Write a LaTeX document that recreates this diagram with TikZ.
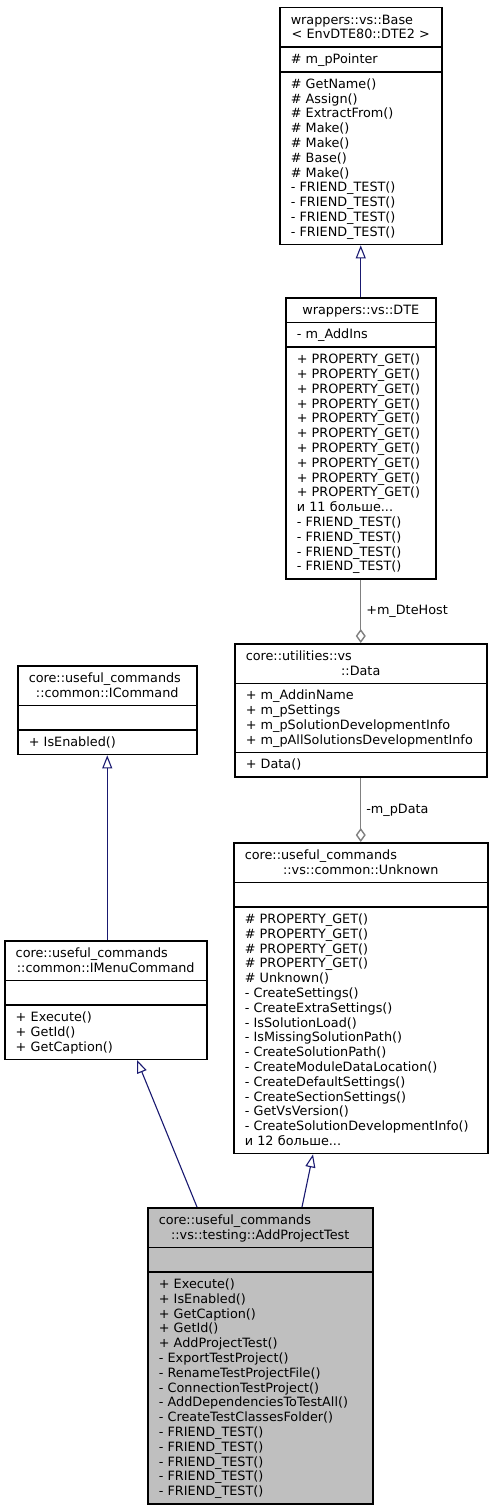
\documentclass[tikz,border=0pt]{standalone}
\usepackage{fontspec}
\usepackage{xcolor}
\usepackage{tikz}
\usetikzlibrary{shapes.multipart,arrows.meta,calc}
\newfontfamily\umlfamily{DejaVu Sans}
\newcommand{\umlfont}{\umlfamily\fontsize{12.8pt}{14.8pt}\selectfont\lineskiplimit=-20pt\relax}
\newcommand{\umls}{\rule[-3.3pt]{0pt}{14.8pt}}
\newcommand{\umlmid}[1]{\makebox[\linewidth]{#1}}
\definecolor{edgeblue}{HTML}{191970}
\definecolor{edgegray}{HTML}{808080}
\definecolor{testgray}{HTML}{BFBFBF}
\tikzset{
  umlclass/.style={draw=black, line width=1.5pt, fill=white, rectangle split, rectangle split parts=3,
    anchor=north west, inner xsep=11pt, inner ysep=4.2pt, align=left, font=\umlfont},
  umlinherit/.style={draw=edgeblue, line width=1.1pt, {Triangle[open,length=13pt,width=10pt]}-},
  umlmember/.style={draw=edgegray, line width=1.4pt, -{Diamond[open,length=14pt,width=10pt]}},
  rolelabel/.style={right, font=\umlfont, xshift=1.5pt},
}

\begin{document}
\begin{tikzpicture}[x=1pt,y=-1pt]
   \useasboundingbox (0,0) rectangle (492,1509);
   % base classes
   \node[umlclass, text width=140pt] (base) at (279,7) {\umls wrappers::vs::Base\\\umlmid{< EnvDTE80::DTE2 >}\umls
     \nodepart{two}\umls\#~m\_pPointer\umls
     \nodepart{three}\umls\#~GetName()\\\#~Assign()\\\#~ExtractFrom()\\\#~Make()\\\#~Make()\\\#~Base()\\\#~Make()\\
       -~FRIEND\_TEST()\\-~FRIEND\_TEST()\\-~FRIEND\_TEST()\\-~FRIEND\_TEST()\umls};
   \node[umlclass, text width=128pt] (dte) at (285,297) {\umls\umlmid{wrappers::vs::DTE}\umls
     \nodepart{two}\umls-~m\_AddIns\umls
     \nodepart{three}\umls+~PROPERTY\_GET()\\+~PROPERTY\_GET()\\+~PROPERTY\_GET()\\+~PROPERTY\_GET()\\+~PROPERTY\_GET()\\
       +~PROPERTY\_GET()\\+~PROPERTY\_GET()\\+~PROPERTY\_GET()\\+~PROPERTY\_GET()\\+~PROPERTY\_GET()\\
       и 11 больше...\\-~FRIEND\_TEST()\\-~FRIEND\_TEST()\\-~FRIEND\_TEST()\\-~FRIEND\_TEST()\umls};
   \node[umlclass, text width=230pt] (data) at (234,643) {\umls core::utilities::vs\\\umlmid{::Data}\umls
     \nodepart{two}\umls+~m\_AddinName\\+~m\_pSettings\\+~m\_pSolutionDevelopmentInfo\\+~m\_pAllSolutionsDevelopmentInfo\umls
     \nodepart{three}\umls+~Data()\umls};
   \node[umlclass, text width=157pt] (icmd) at (17,665) {\umls core::useful\_commands\\\umlmid{::common::ICommand}\umls
     \nodepart{two}\umls
     \nodepart{three}\umls+~IsEnabled()\umls};
   \node[umlclass, text width=232pt] (unknown) at (233,842) {\umls core::useful\_commands\\\umlmid{::vs::common::Unknown}\umls
     \nodepart{two}\umls
     \nodepart{three}\umls\#~PROPERTY\_GET()\\\#~PROPERTY\_GET()\\\#~PROPERTY\_GET()\\\#~PROPERTY\_GET()\\\#~Unknown()\\
       -~CreateSettings()\\-~CreateExtraSettings()\\-~IsSolutionLoad()\\-~IsMissingSolutionPath()\\-~CreateSolutionPath()\\
       -~CreateModuleDataLocation()\\-~CreateDefaultSettings()\\-~CreateSectionSettings()\\-~GetVsVersion()\\
       -~CreateSolutionDevelopmentInfo()\\и 12 больше...\umls};
   \node[umlclass, text width=180pt] (imenu) at (4,940) {\umls core::useful\_commands\\\umlmid{::common::IMenuCommand}\umls
     \nodepart{two}\umls
     \nodepart{three}\umls+~Execute()\\+~GetId()\\+~GetCaption()\umls};
   % the class itself
   \node[umlclass, fill=testgray, text width=203pt] (apt) at (147,1207) {\umls core::useful\_commands\\\umlmid{::vs::testing::AddProjectTest}\umls
     \nodepart{two}\umls
     \nodepart{three}\umls+~Execute()\\+~IsEnabled()\\+~GetCaption()\\+~GetId()\\+~AddProjectTest()\\
       -~ExportTestProject()\\-~RenameTestProjectFile()\\-~ConnectionTestProject()\\-~AddDependenciesToTestAll()\\
       -~CreateTestClassesFolder()\\-~FRIEND\_TEST()\\-~FRIEND\_TEST()\\-~FRIEND\_TEST()\\-~FRIEND\_TEST()\\-~FRIEND\_TEST()\umls};
   % edges
   \draw[umlinherit] (base.south) -- (dte.north);
   \draw[umlmember] (dte.south) -- (data.north) node[rolelabel, midway] (dtehost) {+m\_DteHost};
   \draw[umlmember] (data.south) -- (unknown.north) node[rolelabel, midway] (pdata) {-m\_pData};
   \draw[umlinherit] (icmd.south) -- (icmd.south |- imenu.north);
   \draw[umlinherit] ($(imenu.south west)+(133,0)$) -- ($(apt.north west)+(50,0)$);
   \draw[umlinherit] ($(unknown.south west)+(80,0)$) -- ($(apt.north west)+(155,0)$);
\end{tikzpicture}
\end{document}
